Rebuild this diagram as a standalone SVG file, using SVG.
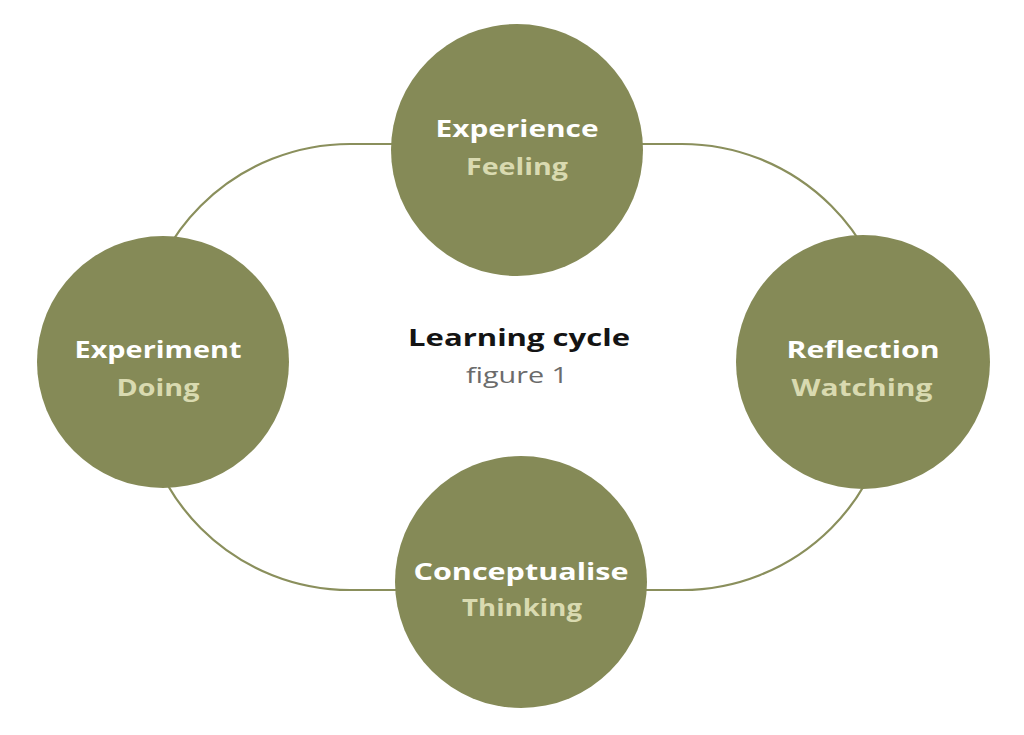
<svg xmlns="http://www.w3.org/2000/svg" width="1024" height="735" viewBox="0 0 1024 735">
  <style>
    .node { fill: #858a57; }
    .conn { fill: none; stroke: #8a8f5c; stroke-width: 2.2; }
    .t1 { font-family: "Open Sans", "Liberation Sans", sans-serif; font-weight: 700; font-size: 23px; fill: #ffffff; text-anchor: middle; }
    .t2 { font-family: "Open Sans", "Liberation Sans", sans-serif; font-weight: 700; font-size: 23px; fill: #d9dab0; text-anchor: middle; }
    .title { font-family: "Open Sans", "Liberation Sans", sans-serif; font-weight: 700; font-size: 23px; fill: #141414; text-anchor: middle; }
    .sub { font-family: "Open Sans", "Liberation Sans", sans-serif; font-weight: 400; font-size: 21px; fill: #6b6b6b; text-anchor: middle; }
  </style>
  <rect width="1024" height="735" fill="#ffffff"/>
  <g id="connectors">
    <rect class="conn" x="139" y="144" width="754" height="446" rx="211" ry="211"/>
  </g>
  <g id="experience">
    <circle class="node" cx="517" cy="150" r="126"/>
    <text class="t1" x="517" y="137" textLength="163" lengthAdjust="spacingAndGlyphs">Experience</text>
    <text class="t2" x="517" y="175" textLength="102" lengthAdjust="spacingAndGlyphs">Feeling</text>
  </g>
  <g id="experiment">
    <circle class="node" cx="163" cy="362" r="126"/>
    <text class="t1" x="158" y="358" textLength="167" lengthAdjust="spacingAndGlyphs">Experiment</text>
    <text class="t2" x="158" y="396" textLength="83" lengthAdjust="spacingAndGlyphs">Doing</text>
  </g>
  <g id="reflection">
    <circle class="node" cx="863" cy="362" r="127"/>
    <text class="t1" x="863" y="358" textLength="153" lengthAdjust="spacingAndGlyphs">Reflection</text>
    <text class="t2" x="862" y="396" textLength="141" lengthAdjust="spacingAndGlyphs">Watching</text>
  </g>
  <g id="conceptualise">
    <circle class="node" cx="521" cy="582" r="126"/>
    <text class="t1" x="521" y="580" textLength="215" lengthAdjust="spacingAndGlyphs">Conceptualise</text>
    <text class="t2" x="522" y="616" textLength="120" lengthAdjust="spacingAndGlyphs">Thinking</text>
  </g>
  <g id="center-label">
    <text class="title" x="519" y="346" textLength="222" lengthAdjust="spacingAndGlyphs">Learning cycle</text>
    <text class="sub" x="517" y="383" textLength="102" lengthAdjust="spacingAndGlyphs">figure 1</text>
  </g>
</svg>
